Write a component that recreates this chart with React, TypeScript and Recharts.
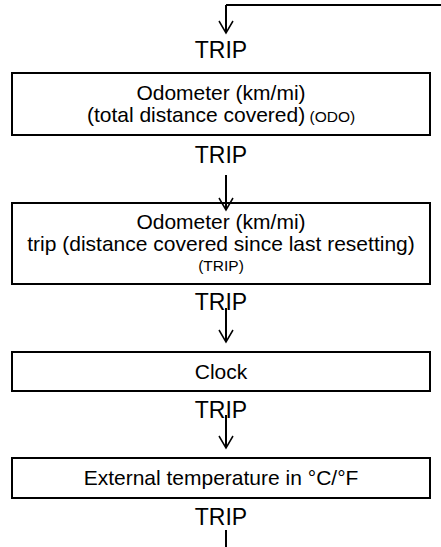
import React from 'react';
import { ComposedChart, XAxis, YAxis, ReferenceArea, ReferenceLine, Scatter } from 'recharts';

const stepTitles = ['Odometer (km/mi)', 'Odometer (km/mi)', 'Clock', 'External temperature in °C/°F'];
const stepDetails = ['(total distance covered)', 'trip (distance covered since last resetting)', '', ''];
const stepCodes = ['(ODO)', '(TRIP)', '', ''];
const stepCodeInline = [true, false, false, false];
const boxTops = [73, 203, 352, 458];
const boxBottoms = [135, 284, 391, 498];

const buttonName = 'TRIP';
const buttonY = [50, 155, 302, 410, 517];
const arrowStarts = [5, 175, 308, 415, 530];
const arrowEnds = [33, 210, 342, 448, 547];
const arrowTips = [true, true, true, true, false];

const W = 441;
const H = 547;
const BOX_LEFT = 12;
const BOX_RIGHT = 430;
const TEXT_X = 221;
const FLOW_X = 226;
const LINE_H = 22;
const FONT = '"Liberation Sans", Arial, sans-serif';

type Row = { x: number; y: number; text: string; code: string; small: boolean };

const rows: Row[] = [];
stepTitles.forEach((title, i) => {
  const lines: Row[] = [];
  lines.push({ x: TEXT_X, y: 0, text: title, code: '', small: false });
  if (stepDetails[i]) {
    lines.push({ x: TEXT_X, y: 0, text: stepDetails[i], code: stepCodeInline[i] ? stepCodes[i] : '', small: false });
  }
  if (stepCodes[i] && !stepCodeInline[i]) {
    lines.push({ x: TEXT_X, y: 0, text: stepCodes[i], code: '', small: true });
  }
  const mid = (boxTops[i] + boxBottoms[i]) / 2;
  lines.forEach((l, k) => {
    l.y = mid + (k - (lines.length - 1) / 2) * LINE_H;
    rows.push(l);
  });
});

const buttonRows = buttonY.map((y) => ({ x: TEXT_X, y }));
const tipRows = arrowEnds.filter((_, i) => arrowTips[i]).map((y) => ({ x: FLOW_X, y }));

const RowText = (props: any) => {
  const { cx, cy, payload } = props;
  if (payload.small) {
    return (
      <text x={cx} y={cy + 5.5} textAnchor="middle" fontSize={15.5} fontFamily={FONT} fill="#000">
        {payload.text}
      </text>
    );
  }
  return (
    <text x={cx} y={cy + 7} textAnchor="middle" fontSize={21} fontFamily={FONT} fill="#000">
      {payload.text}
      {payload.code ? <tspan fontSize={15.5}>{' ' + payload.code}</tspan> : null}
    </text>
  );
};

const ButtonText = (props: any) => {
  const { cx, cy } = props;
  return (
    <text x={cx} y={cy + 8} textAnchor="middle" fontSize={23} fontFamily={FONT} fill="#000">
      {buttonName}
    </text>
  );
};

const Tip = (props: any) => {
  const { cx, cy } = props;
  return (
    <path d={`M${cx - 7},${cy - 12} L${cx},${cy} L${cx + 7},${cy - 12}`} fill="none" stroke="#000" strokeWidth={1.5} />
  );
};

export default function App() {
  return (
    <div style={{ position: 'absolute', left: 0, top: 0, background: '#fff' }}>
      <ComposedChart width={W} height={H} margin={{ top: 0, right: 0, bottom: 0, left: 0 }}>
        <XAxis type="number" dataKey="x" domain={[0, W]} allowDataOverflow hide />
        <YAxis type="number" dataKey="y" domain={[0, H]} allowDataOverflow reversed hide />

        {boxTops.map((top, i) => (
          <ReferenceArea
            key={`box-${i}`}
            x1={BOX_LEFT}
            x2={BOX_RIGHT}
            y1={top}
            y2={boxBottoms[i]}
            fill="none"
            stroke="#000"
            strokeWidth={2}
            ifOverflow="visible"
          />
        ))}

        <ReferenceLine segment={[{ x: FLOW_X, y: 5 }, { x: W, y: 5 }]} stroke="#000" strokeWidth={2} ifOverflow="visible" />
        {arrowStarts.map((s, i) => (
          <ReferenceLine
            key={`flow-${i}`}
            segment={[{ x: FLOW_X, y: s }, { x: FLOW_X, y: arrowEnds[i] }]}
            stroke="#000"
            strokeWidth={2}
            ifOverflow="visible"
          />
        ))}

        <Scatter data={rows} shape={RowText} isAnimationActive={false} />
        <Scatter data={buttonRows} shape={ButtonText} isAnimationActive={false} />
        <Scatter data={tipRows} shape={Tip} isAnimationActive={false} />
      </ComposedChart>
    </div>
  );
}
